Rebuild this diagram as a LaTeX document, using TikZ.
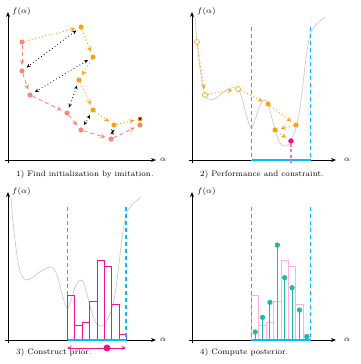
\documentclass[tikz,border=0pt]{standalone}
\usetikzlibrary{arrows.meta}
\definecolor{salm}{HTML}{F8877A}
\definecolor{orng}{HTML}{F7A318}
\definecolor{cyn}{HTML}{00BFFF}
\definecolor{mag}{HTML}{F0148C}
\definecolor{pnk}{HTML}{FFB0DC}
\definecolor{tel}{HTML}{1DB9A9}
\definecolor{crv}{HTML}{CBCBCB}
\begin{document}
\begin{tikzpicture}[x=1bp,y=-1bp,
  axis/.style={line width=0.9pt,-{Stealth[length=5pt,width=4pt]}},
  lbl/.style={inner sep=0pt,font=\fontsize{7}{8}\selectfont,scale=1.14},
  captxt/.style={inner sep=0pt,font=\fontsize{7}{8}\selectfont,scale=1.14},
  sdot/.style={circle,fill=salm,inner sep=0pt,minimum size=5.2pt},
  odot/.style={circle,fill=orng,inner sep=0pt,minimum size=5.2pt},
  hdot/.style={circle,draw=orng,fill=white,line width=0.7pt,inner sep=0pt,minimum size=5pt},
  mdot/.style={circle,fill=mag,inner sep=0pt,minimum size=5.2pt},
  tdot/.style={circle,fill=tel,inner sep=0pt,minimum size=5pt},
  bigdot/.style={circle,fill=mag,inner sep=0pt,minimum size=7pt},
  sarrow/.style={salm,line width=0.9pt,dash pattern=on 4pt off 3pt,-{Stealth[length=5pt,width=4.5pt]},shorten >=3pt},
  oarrow/.style={orng,line width=1pt,dash pattern=on 1pt off 2.6pt,-{Stealth[length=5pt,width=4.5pt]},shorten >=3pt},
  karrow/.style={black,line width=0.8pt,dash pattern=on 0.8pt off 2.6pt,{Stealth[length=4pt,width=3.5pt]}-{Stealth[length=4pt,width=3.5pt]},shorten >=3pt,shorten <=3pt},
  curve/.style={crv,line width=0.7pt},
  cdash/.style={cyn,line width=1bp,dash pattern=on 4pt off 3pt},
  cbar/.style={cyn,line width=2bp},
  hbar/.style={mag,line width=1bp},
  lbar/.style={pnk,line width=1bp},
  stem/.style={tel,line width=1bp}
]
\useasboundingbox (0,0) rectangle (361,364);

% ---------------- Panel 1 ----------------
\coordinate (a1xs) at (5,160); \coordinate (a1xe) at (156,160);
\coordinate (a1ys) at (8,163); \coordinate (a1ye) at (8,12);
\draw[axis] (a1xs) -- (a1xe);
\draw[axis] (a1ys) -- (a1ye);
\node[lbl,anchor=west] (f1) at (12,12) {$f(\alpha)$};
\node[lbl,anchor=west] (x1) at (160,160) {$\alpha$};
\node[captxt,anchor=west] (c1) at (16,175) {1) Find initialization by imitation.};

\node[sdot] (s1) at (22,42) {};
\node[sdot] (s2) at (22,71) {};
\node[sdot] (s3) at (30,95) {};
\node[sdot] (s4) at (67,113) {};
\node[sdot] (s5) at (81,130) {};
\node[sdot] (s6) at (111,139) {};
\node[sdot] (s7) at (140,125) {};
\node[odot] (o1) at (81,27) {};
\node[odot] (o2) at (93,57) {};
\node[odot] (o3) at (79,80) {};
\node[odot] (o4) at (93,110) {};
\node[odot] (o5) at (114,125) {};
\node[odot] (o6) at (140,119) {};

\draw[sarrow] (s1) -- (s2);
\draw[sarrow] (s2) -- (s3);
\draw[sarrow] (s3) -- (s4);
\draw[sarrow] (s4) -- (s5);
\draw[sarrow] (s5) -- (s6);
\draw[sarrow] (s6) -- (s7);
\draw[oarrow] (s1) -- (o1);
\draw[oarrow] (o1) -- (o2);
\draw[oarrow] (o2) -- (o3);
\draw[oarrow] (o3) -- (o4);
\draw[oarrow] (o4) -- (o5);
\draw[oarrow] (o5) -- (o6);
\draw[karrow] (o1) -- (s2);
\draw[karrow] (o2) -- (s3);
\draw[karrow] (o3) -- (s4);
\draw[karrow] (o4) -- (s5);
\draw[karrow] (o5) -- (s6);
\draw[black,line width=0.8pt,-{Stealth[length=3pt,width=3pt]},shorten >=2pt,shorten <=1.5pt] (o6) -- (s7);

% ---------------- Panel 2 ----------------
\coordinate (a2xs) at (189,160); \coordinate (a2xe) at (336,160);
\coordinate (a2ys) at (192,163); \coordinate (a2ye) at (192,12);
\draw[axis] (a2xs) -- (a2xe);
\draw[axis] (a2ys) -- (a2ye);
\node[lbl,anchor=west] (f2) at (197,12) {$f(\alpha)$};
\node[lbl,anchor=west] (x2) at (344,160) {$\alpha$};
\node[captxt,anchor=west] (c2) at (200,175) {2) Performance and constraint.};

\def\crvpts{(195,17) (196,30) (197,42) (200,68) (203,87) (206,96) (210,100) (216,98) (225,91) (234,87) (238,89) (242,98) (246,114) (251,128) (255,120) (260,105) (265,100) (268,104) (272,118) (276,133) (280,143) (284,146) (289,144) (294,134) (297,124) (300,108) (303,84) (306,58) (310,35) (315,26) (320,21) (325,17)}
\draw[curve] plot[smooth,tension=0.55] coordinates {\crvpts};

\coordinate (d2lt) at (251.5,27); \coordinate (d2lb) at (251.5,160);
\coordinate (d2rt) at (310.5,27); \coordinate (d2rb) at (310.5,160);
\draw[cdash] (d2lt) -- (d2lb);
\draw[cdash] (d2rt) -- (d2rb);
\draw[cbar] (d2lb) -- (d2rb);

\node[hdot] (h1) at (197,42) {};
\node[hdot] (h2) at (205,95) {};
\node[hdot] (h3) at (238,89) {};
\node[odot] (q1) at (268,104) {};
\node[odot] (q2) at (296,125) {};
\node[odot] (q3) at (275,130) {};
\node[mdot] (m2) at (291,141) {};
\coordinate (m2b) at (291,165);
\draw[mag!60,line width=1.2pt,dash pattern=on 3pt off 2.5pt] (m2) -- (m2b);
\node[mdot] at (291,141) {};

\draw[oarrow] (h1) -- (h2);
\draw[oarrow] (h2) -- (h3);
\draw[oarrow] (h3) -- (q1);
\draw[oarrow] (q1) -- (q2);
\draw[oarrow] (q2) -- (q3);
\draw[oarrow] (q3) -- (m2);

% ---------------- Panel 3 ----------------
\coordinate (a3xs) at (5,340); \coordinate (a3xe) at (156,340);
\coordinate (a3ys) at (8,343); \coordinate (a3ye) at (8,192);
\draw[axis] (a3xs) -- (a3xe);
\draw[axis] (a3ys) -- (a3ye);
\node[lbl,anchor=west] (f3) at (12,192) {$f(\alpha)$};
\node[lbl,anchor=west] (x3) at (160,340) {$\alpha$};
\node[captxt,anchor=west] (c3) at (16,353) {3) Construct prior.};

\begin{scope}[shift={(-184,180)}]
\draw[curve] plot[smooth,tension=0.55] coordinates {\crvpts};
\end{scope}

\coordinate (d3lt) at (67.5,207); \coordinate (d3lb) at (67.5,340);
\coordinate (d3rt) at (126,207); \coordinate (d3rb) at (126,340);
\draw[cdash] (d3lt) -- (d3lb);
\foreach \i/\h in {0/295,1/325,2/322,3/301,4/260,5/266,6/304,7/334}{
  \draw[hbar] ({67.5+\i*7.375},340) rectangle ({67.5+(\i+1)*7.375},\h);
}
\draw[cdash,line width=2bp] (d3rt) -- (d3rb);
\draw[cbar] (d3lb) -- (d3rb);

\coordinate (pl) at (67,348); \coordinate (pr) at (126,348);
\draw[mag,line width=0.9pt,{Stealth[length=4.5pt,width=4pt]}-{Stealth[length=4.5pt,width=4pt]}] (pl) -- (pr);
\node[bigdot] (pm) at (107,348) {};

% ---------------- Panel 4 ----------------
\coordinate (a4xs) at (189,340); \coordinate (a4xe) at (336,340);
\coordinate (a4ys) at (192,343); \coordinate (a4ye) at (192,192);
\draw[axis] (a4xs) -- (a4xe);
\draw[axis] (a4ys) -- (a4ye);
\node[lbl,anchor=west] (f4) at (197,192) {$f(\alpha)$};
\node[lbl,anchor=west] (x4) at (344,340) {$\alpha$};
\node[captxt,anchor=west] (c4) at (200,353) {4) Compute posterior.};

\coordinate (d4lt) at (251.5,207); \coordinate (d4lb) at (251.5,340);
\coordinate (d4rt) at (310.5,207); \coordinate (d4rb) at (310.5,340);
\foreach \i/\h in {0/295,1/325,2/322,3/301,4/260,5/266,6/304,7/334}{
  \draw[lbar] ({251.5+\i*7.375},340) rectangle ({251.5+(\i+1)*7.375},\h);
}
\draw[cdash] (d4lt) -- (d4lb);
\draw[cdash] (d4rt) -- (d4rb);
\foreach \i/\t in {0/332,1/317.3,2/302.3,3/245,4/277.7,5/287.7,6/310,7/336.7}{
  \coordinate (sb\i) at ({251.5+(\i+0.5)*7.375},340);
  \node[tdot] (st\i) at ({251.5+(\i+0.5)*7.375},\t) {};
  \draw[stem] (sb\i) -- (st\i.center);
  \node[tdot] at (st\i) {};
}
\draw[cbar] (d4lb) -- (d4rb);
\end{tikzpicture}
\end{document}
